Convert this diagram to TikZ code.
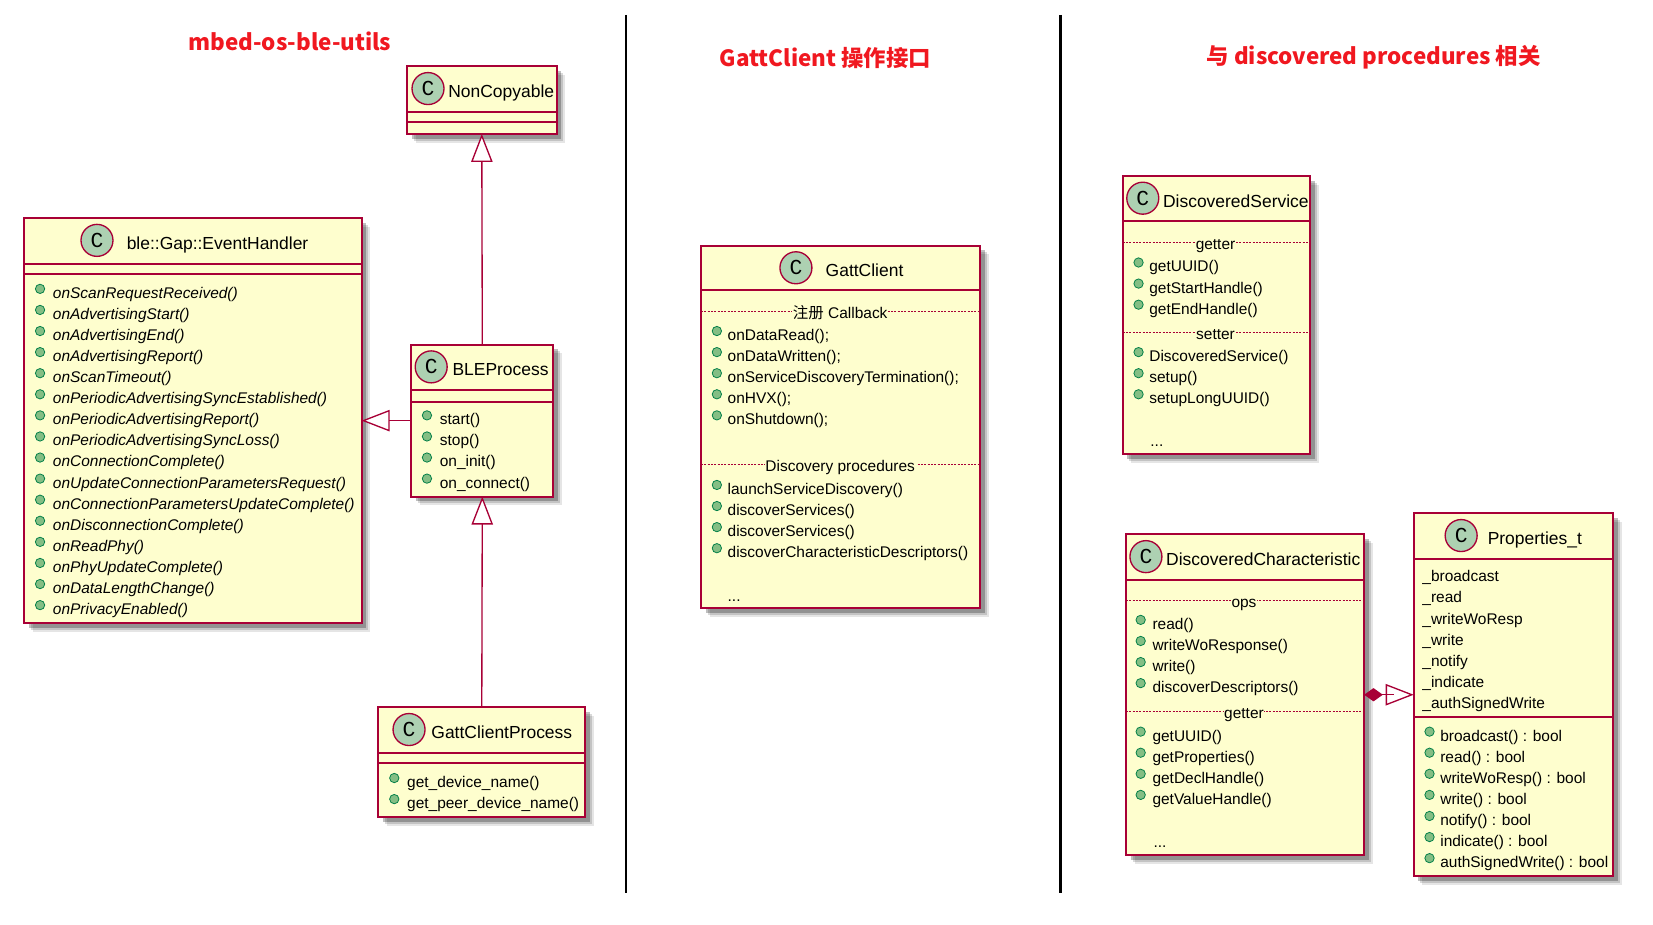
\documentclass[tikz,border=0pt]{standalone}
\usepackage{fontspec}
\setmainfont{Liberation Sans}
\setmonofont{Liberation Mono}
\newfontfamily\cjk{Noto Sans CJK SC}
\usetikzlibrary{arrows.meta,shadows}
\def\unitpx{0.7908pt}
\definecolor{umlline}{HTML}{A80036}
\definecolor{umlfill}{HTML}{FEFECE}
\definecolor{umlspot}{HTML}{ADD1B2}
\definecolor{umldot}{HTML}{84BE84}
\definecolor{umldotline}{HTML}{038048}
\definecolor{headred}{HTML}{F01820}
\tikzset{
  classbox/.style 2 args={draw=umlline,fill=umlfill,line width=1.5pt,anchor=north west,
    inner sep=0pt,outer sep=0pt,minimum width=#1*\unitpx,minimum height=#2*\unitpx,
    drop shadow={shadow xshift=6.5pt,shadow yshift=-6.5pt,fill=black,opacity=.1},
    drop shadow={shadow xshift=5pt,shadow yshift=-5pt,fill=black,opacity=.15},
    drop shadow={shadow xshift=3.5pt,shadow yshift=-3.5pt,fill=black,opacity=.25}},
  spot/.style={circle,draw=umlline,fill=umlspot,line width=1pt,inner sep=0pt,
    minimum size=24pt,font=\fontsize{16}{16}\ttfamily},
  classname/.style={anchor=base west,yshift=-5.2pt,inner sep=0pt,font=\fontsize{13.1}{15}\selectfont},
  member/.style={anchor=base west,yshift=-4.7pt,inner sep=0pt,font=\fontsize{11.6}{14}\selectfont},
  abstract/.style={member,font=\fontsize{11.6}{14}\selectfont\itshape},
  section/.style={member,anchor=base,fill=umlfill,inner xsep=.5pt},
  headline/.style={text=headred,font=\fontsize{16.8}{20}\cjk\bfseries},
  compline/.style={umlline,line width=1.5pt},
  secline/.style={umlline,line width=.5pt,dash pattern=on 1.5pt off 1pt},
  dotmark/.style={draw=umldotline,fill=umldot,line width=.6pt},
  isa/.style={umlline,line width=1pt,-{Triangle[open,fill=white,length=21pt,width=16pt]}},
}
\begin{document}
\begin{tikzpicture}[x=\unitpx,y=-\unitpx]
  \useasboundingbox (0,0) rectangle (1568,877.4);
  \draw[line width=1.6pt] (594,14) coordinate (leftup) -- (594,847) coordinate (leftdown);
  \draw[line width=1.6pt] (1006,14) coordinate (rightup) -- (1006,847) coordinate (rightdown);
  \node (headutils) [headline] at (275,39) {mbed-os-ble-utils};
  \node (headclient) [headline] at (783,55) {GattClient 操作接口};
  \node (headfound) [headline] at (1303,54) {与 discovered procedures 相关};

  % left column
  \node (noncopy) [classbox={142}{64}] at (386,63) {};
  \foreach \y in {106,116}
    \draw[compline] (noncopy.west |- 0,\y) -- (noncopy.east |- 0,\y);
  \node (noncopyspot) [spot] at (406,84) {C};
  \node (noncopyname) [classname] at (425,86) {NonCopyable};

  \node (handler) [classbox={320}{384}] at (23,207) {};
  \foreach \y in {250,260}
    \draw[compline] (handler.west |- 0,\y) -- (handler.east |- 0,\y);
  \node (handlerspot) [spot] at (92,228) {C};
  \node (handlername) [classname] at (120,230) {ble::Gap::EventHandler};
  \foreach \y/\name in {
    277/onScanRequestReceived(), 297/onAdvertisingStart(), 317/onAdvertisingEnd(),
    337/onAdvertisingReport(), 357/onScanTimeout(), 377/onPeriodicAdvertisingSyncEstablished(),
    397/onPeriodicAdvertisingReport(), 417/onPeriodicAdvertisingSyncLoss(),
    437/onConnectionComplete(), 457/onUpdateConnectionParametersRequest(),
    477/onConnectionParametersUpdateComplete(), 497/onDisconnectionComplete(),
    517/onReadPhy(), 537/onPhyUpdateComplete(), 557/onDataLengthChange(),
    577/onPrivacyEnabled()
  }{
    \filldraw[dotmark] (38,\y-3) circle(3.5pt);
    \node (handler\y) [abstract] at (50,\y) {\name};
  }

  \node (ble) [classbox={135}{144}] at (390,327) {};
  \foreach \y in {370,381}
    \draw[compline] (ble.west |- 0,\y) -- (ble.east |- 0,\y);
  \node (blespot) [spot] at (409,348) {C};
  \node (blename) [classname] at (429,350) {BLEProcess};
  \foreach \y/\name in {397/start(), 417/stop(), 437/on\_init(), 457/on\_connect()}{
    \filldraw[dotmark] (405,\y-3) circle(3.5pt);
    \node (ble\y) [member] at (417,\y) {\name};
  }

  \node (gattproc) [classbox={196}{104}] at (359,671) {};
  \foreach \y in {714,724}
    \draw[compline] (gattproc.west |- 0,\y) -- (gattproc.east |- 0,\y);
  \node (gattprocspot) [spot] at (388,692) {C};
  \node (gattprocname) [classname] at (409,694) {GattClientProcess};
  \foreach \y/\name in {741/get\_device\_name(), 761/get\_peer\_device\_name()}{
    \filldraw[dotmark] (374,\y-3) circle(3.5pt);
    \node (gattproc\y) [member] at (386,\y) {\name};
  }

  \draw[isa] (ble.north) -- (noncopy.south);
  \draw[isa] (ble.west) -- (handler.east);
  \draw[isa] (gattproc.north) -- (ble.south);

  % middle column
  \node (client) [classbox={265}{344}] at (665,233) {};
  \draw[compline] (client.west |- 0,275) -- (client.east |- 0,275);
  \node (clientspot) [spot] at (755,254) {C};
  \node (clientname) [classname] at (783,256) {GattClient};
  \foreach \y in {295,440}
    \draw[secline] (client.west |- 0,\y) -- (client.east |- 0,\y);
  \node (clientcb) [section] at (797,296) {{\cjk 注册} Callback};
  \node (clientdisc) [section] at (797,441) {Discovery procedures};
  \foreach \y/\name in {
    317/onDataRead();, 337/onDataWritten();, 357/onServiceDiscoveryTermination();,
    377/onHVX();, 397/onShutdown();, 463/launchServiceDiscovery(),
    483/discoverServices(), 503/discoverServices(),
    523/discoverCharacteristicDescriptors()
  }{
    \filldraw[dotmark] (680,\y-3) circle(3.5pt);
    \node (client\y) [member] at (690,\y) {\name};
  }
  \node (clientmore) [member] at (690,565) {...};

  % right column
  \node (service) [classbox={178}{264}] at (1065,167) {};
  \draw[compline] (service.west |- 0,210) -- (service.east |- 0,210);
  \node (servicespot) [spot] at (1084,188) {C};
  \node (servicename) [classname] at (1103,190) {DiscoveredService};
  \foreach \y in {230,315}
    \draw[secline] (service.west |- 0,\y) -- (service.east |- 0,\y);
  \node (serviceget) [section] at (1153,231) {getter};
  \node (serviceset) [section] at (1153,316) {setter};
  \foreach \y/\name in {
    252/getUUID(), 272/getStartHandle(), 292/getEndHandle(),
    337/DiscoveredService(), 357/setup(), 377/setupLongUUID()
  }{
    \filldraw[dotmark] (1080,\y-3) circle(3.5pt);
    \node (service\y) [member] at (1090,\y) {\name};
  }
  \node (servicemore) [member] at (1091,418) {...};

  \node (dchar) [classbox={226}{304}] at (1068,507) {};
  \draw[compline] (dchar.west |- 0,550) -- (dchar.east |- 0,550);
  \node (dcharspot) [spot] at (1087,528) {C};
  \node (dcharname) [classname] at (1106,530) {DiscoveredCharacteristic};
  \foreach \y in {569,675}
    \draw[secline] (dchar.west |- 0,\y) -- (dchar.east |- 0,\y);
  \node (dcharops) [section] at (1180,570) {ops};
  \node (dcharget) [section] at (1180,676) {getter};
  \foreach \y/\name in {
    591/read(), 611/writeWoResponse(), 631/write(), 651/discoverDescriptors(),
    697/getUUID(), 717/getProperties(), 737/getDeclHandle(), 757/getValueHandle()
  }{
    \filldraw[dotmark] (1082,\y-3) circle(3.5pt);
    \node (dchar\y) [member] at (1093,\y) {\name};
  }
  \node (dcharmore) [member] at (1094,798) {...};

  \node (props) [classbox={189}{344}] at (1341,487) {};
  \foreach \y in {530,680}
    \draw[compline] (props.west |- 0,\y) -- (props.east |- 0,\y);
  \node (propsspot) [spot] at (1386,508) {C};
  \node (propsname) [classname] at (1411,510) {Properties\_t};
  \foreach \y/\name in {
    546/\_broadcast, 566/\_read, 586/\_writeWoResp, 606/\_write,
    626/\_notify, 646/\_indicate, 666/\_authSignedWrite
  }
    \node (propsfield\y) [member] at (1349,\y) {\name};
  \foreach \y/\name in {
    697/broadcast() : bool, 717/read() : bool, 737/writeWoResp() : bool,
    757/write() : bool, 777/notify() : bool, 797/indicate() : bool,
    817/authSignedWrite() : bool
  }{
    \filldraw[dotmark] (1356,\y-3) circle(3.5pt);
    \node (props\y) [member] at (1366,\y) {\name};
  }

  \coordinate (compend) at (1322,659);
  \draw[isa] (dchar.east) -- (props.west);
  \draw[umlline,line width=1pt,{Diamond[length=14pt,width=10pt]}-] (dchar.east) -- (compend);
\end{tikzpicture}
\end{document}
